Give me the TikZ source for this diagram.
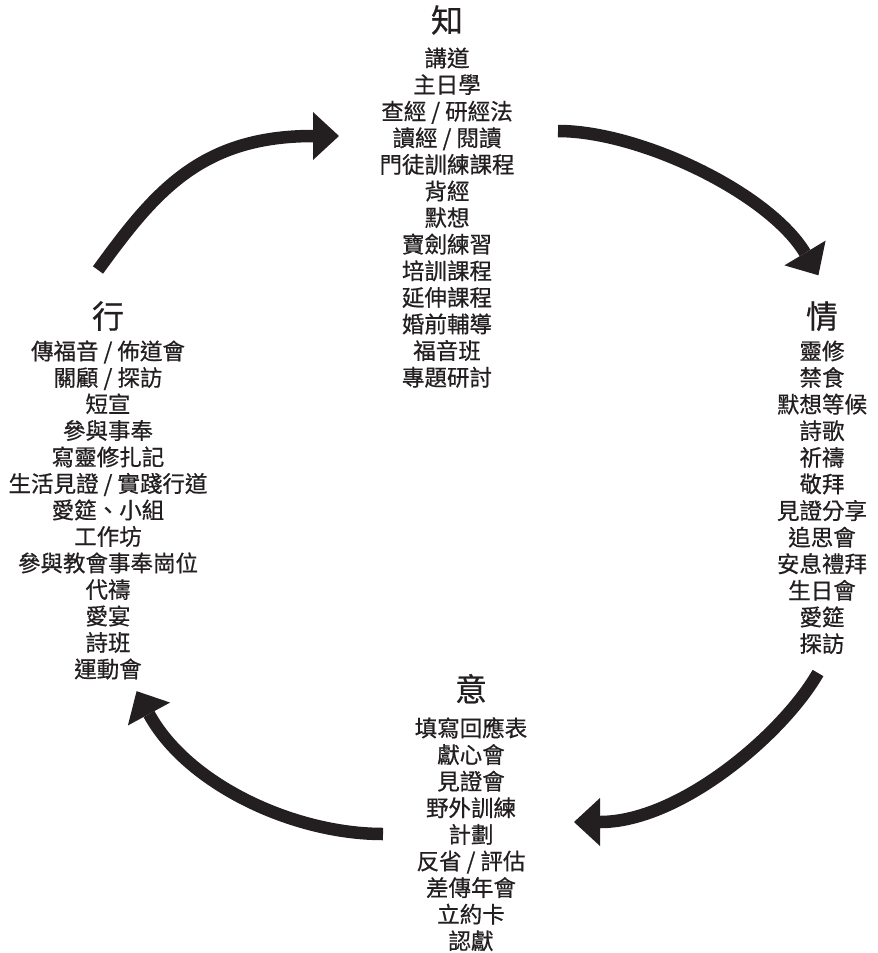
\documentclass[tikz,border=0pt]{standalone}
\usepackage{fontspec}
\newfontfamily\cjk[FakeBold=0.6]{Noto Sans CJK TC}
\definecolor{ink}{HTML}{231F20}
\begin{document}
\begin{tikzpicture}[x=1pt,y=1pt,
  item/.style={font=\cjk\fontsize{22.5}{26}\selectfont, text=ink, inner sep=0pt,
    text height=18.7pt, text depth=1.6pt, anchor=center},
  title/.style={font=\cjk\fontsize{32}{36}\selectfont, text=ink, inner sep=0pt,
    text height=26.6pt, text depth=2.2pt, anchor=center},
  shaft/.style={draw=ink, line width=12.5pt},
  pics/ahead/.style={code={\fill[ink] (0,24) -- (26,0) -- (0,-24) -- cycle;}}]
\useasboundingbox (0,0) rectangle (878,-953);

% titles
\node[title] (zhi) at (447,-20) {知};
\node[title] (qing) at (822,-316) {情};
\node[title] (xing) at (108,-316) {行};
\node[title] (yi) at (471,-689) {意};

% lists
\foreach \t [count=\i] in {講道,主日學,查經 / 研經法,讀經 / 閱讀,門徒訓練課程,背經,默想,寶劍練習,培訓課程,延伸課程,婚前輔導,福音班,專題研討}
  \node[item] (zhi\i) at (447,{-58-26.6*(\i-1)}) {\t};
\foreach \t [count=\i] in {靈修,禁食,默想等候,詩歌,祈禱,敬拜,見證分享,追思會,安息禮拜,生日會,愛筵,探訪}
  \node[item] (qing\i) at (822,{-351-26.6*(\i-1)}) {\t};
\foreach \t [count=\i] in {傳福音 / 佈道會,關顧 / 探訪,短宣,參與事奉,寫靈修扎記,生活見證 / 實踐行道,愛筵、小組,工作坊,參與教會事奉崗位,代禱,愛宴,詩班,運動會}
  \node[item] (xing\i) at (108,{-351-26.5*(\i-1)}) {\t};
\foreach \t [count=\i] in {填寫回應表,獻心會,見證會,野外訓練,計劃,反省 / 評估,差傳年會,立約卡,認獻}
  \node[item] (yi\i) at (471,{-728-26.6*(\i-1)}) {\t};

% arrows
\coordinate (a1s) at (98,-270);  \coordinate (a1e) at (313,-136);
\coordinate (a2s) at (558,-131); \coordinate (a2e) at (805,-253);
\coordinate (a3s) at (818,-673); \coordinate (a3e) at (600,-822);
\coordinate (a4s) at (383,-834); \coordinate (a4e) at (149,-714);

\draw[shaft] (a1s) .. controls (154,-193) and (200,-136) .. (a1e);
\pic[rotate=0] at (a1e) {ahead};
\draw[shaft] (a2s) .. controls (640,-131) and (769,-193) .. (a2e);
\pic[rotate=-59] at (a2e) {ahead};
\draw[shaft] (a3s) .. controls (783,-734) and (680,-822) .. (a3e);
\pic[rotate=180] at (a3e) {ahead};
\draw[shaft] (a4s) .. controls (293,-834) and (187,-784) .. (a4e);
\pic[rotate=118.5] at (a4e) {ahead};
\end{tikzpicture}
\end{document}
